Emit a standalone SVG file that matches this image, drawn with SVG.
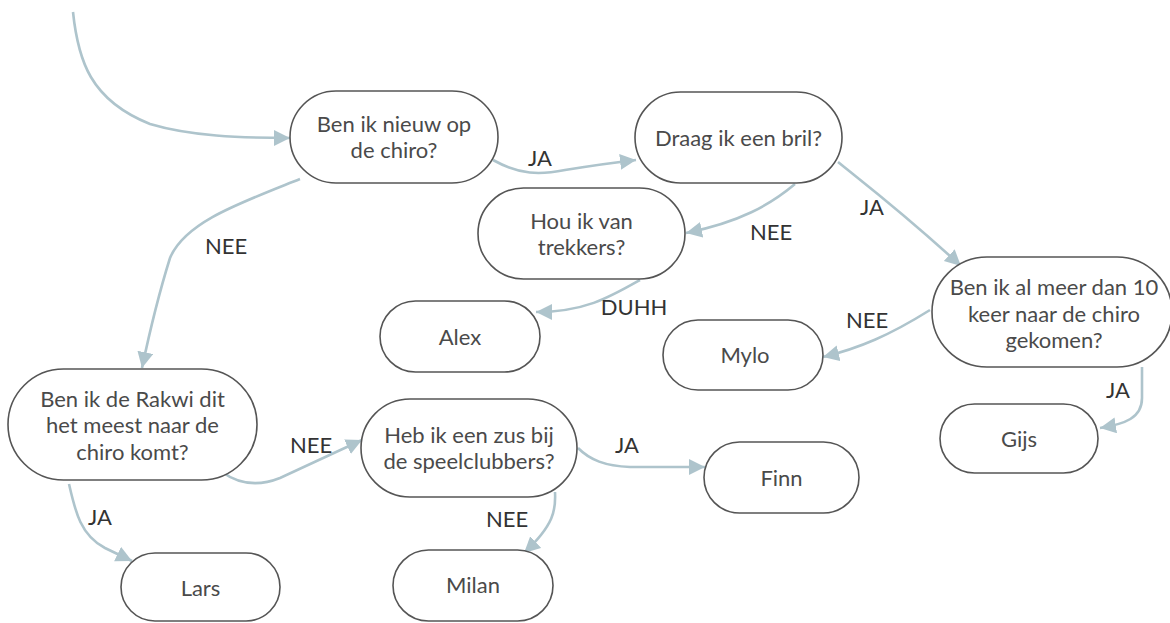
<svg xmlns="http://www.w3.org/2000/svg" width="1170" height="623" viewBox="0 0 1170 623">
<defs>
<style>
.n{fill:#fff;stroke:#555;stroke-width:1.6}
.t{font-family:Lato,"Noto Sans",sans-serif;font-size:22px;fill:#4a4a4a;text-anchor:middle}
.l{font-family:Lato,"Noto Sans",sans-serif;font-size:22px;fill:#333;text-anchor:middle}
.c{fill:none;stroke:#aec4cc;stroke-width:2.6;marker-end:url(#ah)}
</style>
<marker id="ah" markerUnits="userSpaceOnUse" markerWidth="18" markerHeight="18" refX="16" refY="8" orient="auto">
<path d="M0,0 L16,8 L0,16 Z" fill="#aec4cc"/>
</marker>
</defs>
<rect width="1170" height="623" fill="#fff"/>
<g id="connectors">
<path class="c" d="M73,12 C78,60 90,100 150,124 C190,136 240,138 290,138"/>
<path class="c" d="M493,160 C520,175 540,175 565,170 C590,166 610,163 636,160"/>
<path class="c" d="M795,184 C770,205 740,222 686,233"/>
<path class="c" d="M640,280 C610,297 585,312 536,312"/>
<path class="c" d="M838,162 C860,180 900,210 961,266"/>
<path class="c" d="M930,310 C890,335 860,348 823,357"/>
<path class="c" d="M1142,367 L1142,398 C1142,418 1125,424 1100,428"/>
<path class="c" d="M300,179 C240,203 185,222 170,258 C160,290 150,330 142,368"/>
<path class="c" d="M222,472 C240,485 260,486 280,478 L362,440"/>
<path class="c" d="M69,484 C75,510 80,535 105,548 L132,561"/>
<path class="c" d="M578,448 C590,460 605,466 630,467 L705,467"/>
<path class="c" d="M555,492 C556,510 554,525 524,553"/>
<text class="l" x="540" y="166">JA</text>
<text class="l" x="771" y="240">NEE</text>
<text class="l" x="634" y="315">DUHH</text>
<text class="l" x="872" y="215">JA</text>
<text class="l" x="867" y="328">NEE</text>
<text class="l" x="1118" y="398">JA</text>
<text class="l" x="226" y="254">NEE</text>
<text class="l" x="311" y="453">NEE</text>
<text class="l" x="100" y="525">JA</text>
<text class="l" x="627" y="453">JA</text>
<text class="l" x="507" y="527">NEE</text>
</g>
<g id="n1"><rect class="n" x="290" y="91" width="208" height="92" rx="46"/><text class="t" x="394" y="132">Ben ik nieuw op</text><text class="t" x="394" y="158">de chiro?</text></g>
<g id="n2"><rect class="n" x="635" y="92" width="207" height="91" rx="45.5"/><text class="t" x="738.5" y="146">Draag ik een bril?</text></g>
<g id="n3"><rect class="n" x="478" y="188" width="207" height="91" rx="45.5"/><text class="t" x="581.5" y="229">Hou ik van</text><text class="t" x="581.5" y="255">trekkers?</text></g>
<g id="alex"><rect class="n" x="380" y="301" width="160" height="71" rx="35.5"/><text class="t" x="460" y="345">Alex</text></g>
<g id="mylo"><rect class="n" x="663" y="320" width="160" height="70" rx="35"/><text class="t" x="745" y="363">Mylo</text></g>
<g id="n4"><rect class="n" x="932" y="257" width="240" height="110" rx="55"/><text class="t" x="1054" y="295">Ben ik al meer dan 10</text><text class="t" x="1054" y="322">keer naar de chiro</text><text class="t" x="1054" y="348">gekomen?</text></g>
<g id="gijs"><rect class="n" x="940" y="404" width="158" height="69" rx="34.5"/><text class="t" x="1019" y="447">Gijs</text></g>
<g id="n5"><rect class="n" x="8" y="369" width="249" height="111" rx="55.5"/><text class="t" x="132.5" y="407">Ben ik de Rakwi dit</text><text class="t" x="132.5" y="433">het meest naar de</text><text class="t" x="132.5" y="460">chiro komt?</text></g>
<g id="n6"><rect class="n" x="361" y="399" width="216" height="98" rx="49"/><text class="t" x="469" y="443">Heb ik een zus bij</text><text class="t" x="469" y="469">de speelclubbers?</text></g>
<g id="finn"><rect class="n" x="704" y="442" width="155" height="71" rx="35.5"/><text class="t" x="781.5" y="486">Finn</text></g>
<g id="lars"><rect class="n" x="121" y="553" width="159" height="68" rx="34"/><text class="t" x="200.5" y="596">Lars</text></g>
<g id="milan"><rect class="n" x="393" y="550" width="160" height="71" rx="35.5"/><text class="t" x="473" y="593">Milan</text></g>
</svg>
